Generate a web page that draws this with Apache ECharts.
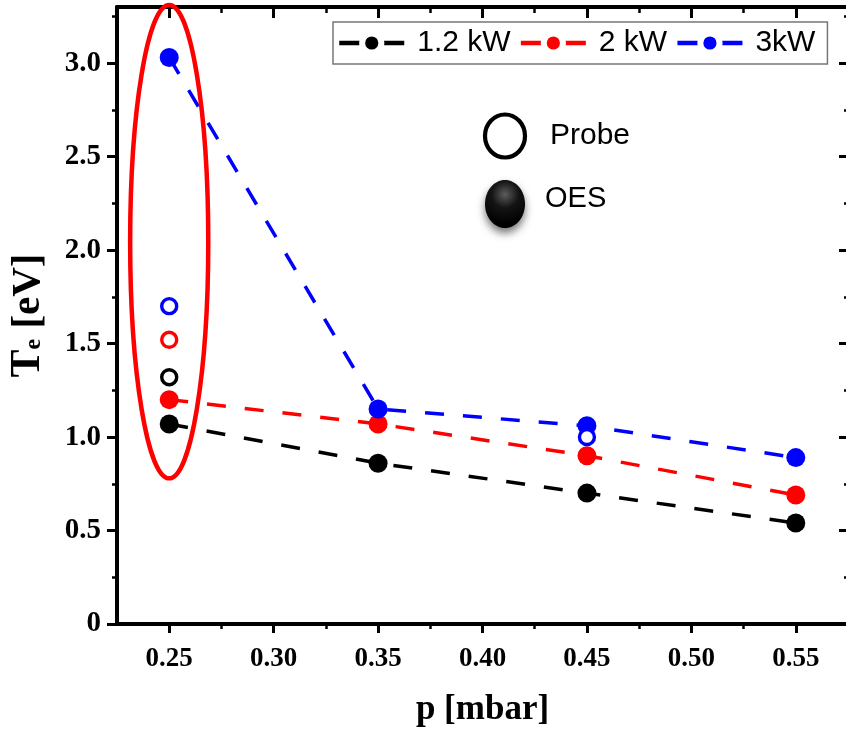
<!DOCTYPE html>
<html>
<head>
<meta charset="utf-8">
<script src="https://cdn.jsdelivr.net/npm/echarts@6/dist/echarts.min.js"></script>
<style>
  html, body { margin: 0; padding: 0; background: #fff; }
  #chart { width: 846px; height: 731px; }
</style>
</head>
<body>
<div id="chart"></div>
<script>
// Pressure values (mbar) shared by every power level
const pressure = [0.25, 0.35, 0.45, 0.55];
// Electron temperature from optical emission spectroscopy (eV)
const oes12 = [1.07, 0.86, 0.70, 0.54];
const oes20 = [1.20, 1.07, 0.90, 0.69];
const oes30 = [3.03, 1.15, 1.06, 0.89];
// Electron temperature from the Langmuir probe (eV), [pressure, Te]
const probe12 = [[0.25, 1.32]];
const probe20 = [[0.25, 1.52]];
const probe30 = [[0.25, 1.70], [0.45, 1.00]];
const seriesNames = ['1.2 kW', '2 kW', '3kW'];
// Axis ticks
const xTicks = [0.25, 0.30, 0.35, 0.40, 0.45, 0.50, 0.55];
const xMinorTicks = [0.275, 0.325, 0.375, 0.425, 0.475, 0.525];
const yTicks = [0, 0.5, 1.0, 1.5, 2.0, 2.5, 3.0];
const yMinorTicks = [0.25, 0.75, 1.25, 1.75, 2.25, 2.75, 3.25];
// Oval marking the lowest-pressure group: centre and half-axes in data units
const ovalCenter = [0.25, 2.045];
const ovalHalfAxes = [0.0187, 1.266];

const X_MIN = 0.225, X_MAX = 0.575, Y_MIN = 0, Y_MAX = 3.3;
const colors = ['#000000', '#ff0000', '#0000ff'];
const serif = '"Liberation Serif", "Times New Roman", serif';
const sans = '"Liberation Sans", Arial, sans-serif';

function axisBase(min, max, position, ticks, len, inside, withLine, tickWidth) {
  return {
    type: 'value', min: min, max: max, position: position,
    axisLine: { show: withLine, onZero: false, lineStyle: { color: '#000', width: 4 } },
    axisTick: { show: true, inside: inside, length: len, customValues: ticks,
                lineStyle: { color: '#000', width: tickWidth } },
    axisLabel: { show: false },
    splitLine: { show: false }
  };
}

const xMain = axisBase(X_MIN, X_MAX, 'bottom', xTicks, 9, false, true, 3);
xMain.axisLabel = {
  show: true, customValues: xTicks, margin: 22,
  formatter: v => v.toFixed(2),
  fontFamily: serif, fontWeight: 'bold', fontSize: 27, color: '#000'
};
xMain.name = 'p [mbar]';
xMain.nameLocation = 'middle';
xMain.nameGap = 68;
xMain.nameTextStyle = { fontFamily: serif, fontWeight: 'bold', fontSize: 35, color: '#000' };

const yMain = axisBase(Y_MIN, Y_MAX, 'left', yTicks, 10, false, true, 3);
yMain.axisLabel = {
  show: true, customValues: yTicks, margin: 16,
  formatter: v => (v === 0 ? '0' : v.toFixed(1)),
  fontFamily: serif, fontWeight: 'bold', fontSize: 29, color: '#000'
};
yMain.name = '{t|T}{s|e}{b| [eV]}';
yMain.nameLocation = 'middle';
yMain.nameGap = 68;
yMain.nameTextStyle = {
  fontFamily: serif, fontWeight: 'bold', fontSize: 41, color: '#000',
  rich: {
    t: { fontFamily: serif, fontWeight: 'bold', fontSize: 42, color: '#000' },
    s: { fontFamily: serif, fontWeight: 'bold', fontSize: 24, color: '#000', padding: [12, 0, 0, 0] },
    b: { fontFamily: serif, fontWeight: 'bold', fontSize: 41, color: '#000' }
  }
};

const chart = echarts.init(document.getElementById('chart'), null, { renderer: 'canvas' });

chart.setOption({
  backgroundColor: '#fff',
  animation: false,
  grid: { left: 117, right: -2, top: 7, bottom: 107, containLabel: false, outerBoundsMode: 'none' },
  xAxis: [
    xMain,
    axisBase(X_MIN, X_MAX, 'bottom', xMinorTicks, 5, false, false, 2.5),
    axisBase(X_MIN, X_MAX, 'top', xTicks, 11, true, true, 3),
    axisBase(X_MIN, X_MAX, 'top', xMinorTicks, 6, true, false, 2.5)
  ],
  yAxis: [
    yMain,
    axisBase(Y_MIN, Y_MAX, 'left', yMinorTicks, 5, false, false, 2.5),
    axisBase(Y_MIN, Y_MAX, 'right', yTicks, 9, true, true, 3),
    axisBase(Y_MIN, Y_MAX, 'right', yMinorTicks, 4, true, false, 2.5)
  ],
  legend: {
    data: seriesNames,
    left: 333, top: 22,
    orient: 'horizontal',
    itemWidth: 65, itemHeight: 24, itemGap: 8,
    padding: [6, 12, 6, 4],
    borderColor: '#777', borderWidth: 1.5, backgroundColor: '#fff',
    lineStyle: { type: 'solid', width: 4.5 },
    itemStyle: { borderColor: '#fff', borderWidth: 6 },
    textStyle: { fontFamily: sans, fontSize: 30, color: '#000', padding: [0, 0, 0, 8] }
  },
  series: [
    ...[oes12, oes20, oes30].map((vals, k) => ({
      name: seriesNames[k],
      type: 'line',
      xAxisIndex: 0, yAxisIndex: 0,
      data: pressure.map((p, i) => [p, vals[i]]),
      symbol: 'circle', symbolSize: 19,
      lineStyle: { color: colors[k], width: 3.5, type: [19, 19] },
      itemStyle: { color: colors[k], opacity: 1 },
      z: 3 + k
    })),
    ...[probe12, probe20, probe30].map((pts, k) => ({
      name: 'Probe ' + seriesNames[k],
      type: 'scatter',
      xAxisIndex: 0, yAxisIndex: 0,
      data: pts,
      symbol: 'circle', symbolSize: 15,
      itemStyle: { color: '#fff', borderColor: colors[k], borderWidth: 3.4, opacity: 1 },
      z: 7
    })),
    {
      name: 'oval',
      type: 'custom',
      xAxisIndex: 0, yAxisIndex: 0,
      clip: false,
      data: [ovalCenter],
      renderItem: function (params, api) {
        const c = api.coord([api.value(0), api.value(1)]);
        const s = api.size([ovalHalfAxes[0], ovalHalfAxes[1]]);
        return {
          type: 'ellipse',
          shape: { cx: c[0], cy: c[1], rx: s[0], ry: s[1] },
          style: { fill: 'none', stroke: '#ff0000', lineWidth: 4.5 }
        };
      },
      z: 8
    }
  ],
  graphic: [
    { type: 'ellipse', shape: { cx: 505, cy: 136, rx: 20, ry: 21.5 },
      style: { fill: '#fff', stroke: '#000', lineWidth: 4.2 } },
    { type: 'text', x: 550, y: 136,
      style: { text: 'Probe', fontFamily: sans, fontSize: 30, fill: '#000', verticalAlign: 'middle' } },
    { type: 'ellipse', shape: { cx: 505, cy: 204, rx: 20, ry: 24 },
      style: {
        fill: { type: 'radial', x: 0.5, y: 0.3, r: 0.75,
                colorStops: [{ offset: 0, color: '#5c5c5c' }, { offset: 0.45, color: '#141414' }, { offset: 1, color: '#000' }] },
        shadowBlur: 8, shadowOffsetY: 5, shadowColor: 'rgba(0,0,0,0.55)'
      } },
    { type: 'text', x: 545, y: 199,
      style: { text: 'OES', fontFamily: sans, fontSize: 29, fill: '#000', verticalAlign: 'middle' } }
  ]
});
</script>
</body>
</html>
